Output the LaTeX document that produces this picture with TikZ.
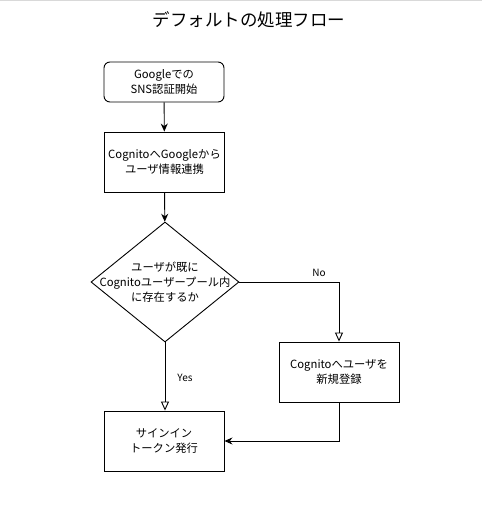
\documentclass[tikz,border=0pt]{standalone}
\usepackage{fontspec}
\setmainfont{Noto Sans CJK JP}
\usetikzlibrary{arrows.meta,shapes.geometric}
\begin{document}
\begin{tikzpicture}[x=1pt,y=-1pt,
  txt/.style={align=center,font=\fontsize{11.3}{15}\selectfont},
  box/.style={txt,draw,line width=0.9pt,minimum width=120pt,minimum height=60pt,inner sep=1pt},
  rbox/.style={box,rounded corners=6pt,minimum height=40pt},
  dia/.style={draw,line width=0.9pt,diamond,minimum width=148pt,minimum height=120pt,inner sep=0pt},
  flow/.style={line width=0.9pt,-{Stealth[length=8pt,width=7pt]}},
  oflow/.style={line width=0.9pt,-{Triangle[open,length=9pt,width=8pt]}},
  lab/.style={font=\fontsize{10}{12}\selectfont}]
\useasboundingbox (0,0) rectangle (482,525);
\draw[gray!30,line width=1pt] (0,0.5) -- (482,0.5);
\node[font=\fontsize{17.5}{20}\selectfont] (title) at (249,20) {デフォルトの処理フロー};
\node[rbox] (start) at (164,82) {Googleでの\\SNS認証開始};
\node[box] (sync) at (164.5,162) {CognitoへGoogleから\\ユーザ情報連携};
\node[dia] (q) at (165,282) {};
\node[txt] (qt) at (q.center) {ユーザが既に\\Cognitoユーザープール内\\に存在するか};
\node[box] (reg) at (339,372) {Cognitoへユーザを\\新規登録};
\node[box] (tok) at (164,441) {サインイン\\トークン発行};
\coordinate (c1) at (339,282);
\coordinate (c2) at (339,441);
\draw[flow] (start) -- (sync);
\draw[flow] (sync) -- (q);
\draw[oflow] (q.east) -- (c1) -- (reg.north);
\draw[oflow] (q.south) -- (tok.north -| q.south);
\draw[flow] (reg.south) -- (c2) -- (tok.east);
\node[lab] (no) at (319,273) {No};
\node[lab] (yes) at (185,378) {Yes};
\end{tikzpicture}
\end{document}
